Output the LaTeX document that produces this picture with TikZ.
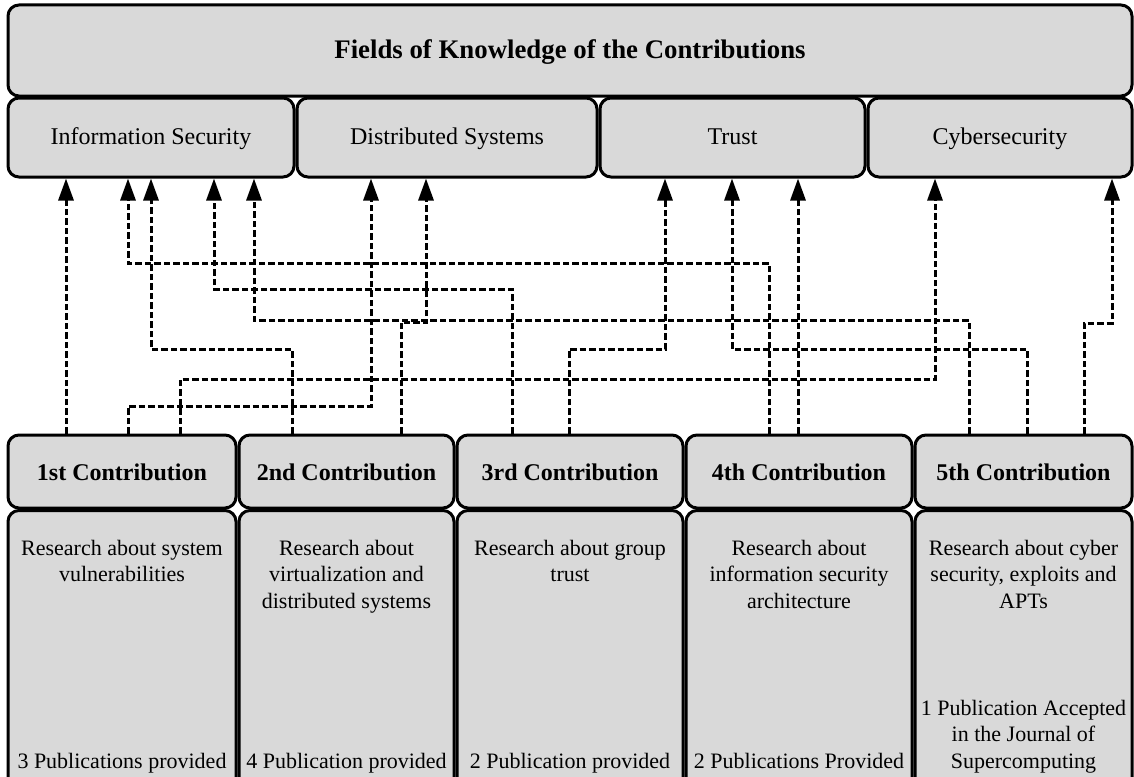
\documentclass[tikz,border=0pt]{standalone}
\usepackage{fontspec}
\setmainfont{Liberation Serif}
\usetikzlibrary{arrows.meta}
\definecolor{boxgray}{RGB}{217,217,217}
\begin{document}
\begin{tikzpicture}[x=1pt,y=-1pt,
  panel/.style={draw=black, fill=boxgray, line width=3pt, rounded corners=11pt, inner sep=0pt},
  titletxt/.style={font=\bfseries\fontsize{26.8}{32}\selectfont, text height=19pt, text depth=3pt},
  fieldtxt/.style={font=\fontsize{24}{28}\selectfont, text height=18pt, text depth=5pt},
  headtxt/.style={font=\bfseries\fontsize{24}{28}\selectfont, text height=17pt, text depth=0pt},
  bodytxt/.style={font=\fontsize{22}{26.5}\selectfont, align=center, inner sep=0pt, anchor=north},
  link/.style={line width=3pt, dash pattern=on 6.5pt off 3pt,
    -{Triangle[length=22pt,width=15pt]}}
]
\useasboundingbox (0,0) rectangle (1134,776);
\clip (0,0) rectangle (1134,776);

% header and fields of knowledge
\node[panel, titletxt, minimum width=1124pt, minimum height=91pt] (title) at (570,50.5)
  {Fields of Knowledge of the Contributions};
\node[panel, fieldtxt, minimum width=286pt, minimum height=79pt] (is) at (151,137.5) {Information Security};
\node[panel, fieldtxt, minimum width=300pt, minimum height=79pt] (ds) at (447,137.5) {Distributed Systems};
\node[panel, fieldtxt, minimum width=265pt, minimum height=79pt] (tr) at (732.5,137.5) {Trust};
\node[panel, fieldtxt, minimum width=264pt, minimum height=79pt] (cy) at (1000,137.5) {Cybersecurity};

% contribution headers
\node[panel, headtxt, minimum width=228pt, minimum height=73pt] (c1) at (122,471.5) {1st Contribution};
\node[panel, headtxt, minimum width=215pt, minimum height=73pt] (c2) at (346.5,471.5) {2nd Contribution};
\node[panel, headtxt, minimum width=226pt, minimum height=73pt] (c3) at (570,471.5) {3rd Contribution};
\node[panel, headtxt, minimum width=226pt, minimum height=73pt] (c4) at (799,471.5) {4th Contribution};
\node[panel, headtxt, minimum width=217pt, minimum height=73pt] (c5) at (1023.5,471.5) {5th Contribution};

% contribution bodies
\node[panel, minimum width=228pt, minimum height=289pt] (b1) at (122,655) {};
\node[panel, minimum width=215pt, minimum height=289pt] (b2) at (346.5,655) {};
\node[panel, minimum width=226pt, minimum height=289pt] (b3) at (570,655) {};
\node[panel, minimum width=226pt, minimum height=289pt] (b4) at (799,655) {};
\node[panel, minimum width=217pt, minimum height=289pt] (b5) at (1023.5,655) {};

\node[bodytxt] (d1) at ([yshift=-31pt]b1.north) {Research about system\\vulnerabilities};
\node[bodytxt] (d2) at ([yshift=-31pt]b2.north) {Research about\\virtualization and\\distributed systems};
\node[bodytxt] (d3) at ([yshift=-31pt]b3.north) {Research about group\\trust};
\node[bodytxt] (d4) at ([yshift=-31pt]b4.north) {Research about\\information security\\architecture};
\node[bodytxt] (d5) at ([yshift=-31pt]b5.north) {Research about cyber\\security, exploits and\\APTs};

\node[bodytxt] (p1) at ([yshift=-244pt]b1.north) {3 Publications provided};
\node[bodytxt] (p2) at ([yshift=-244pt]b2.north) {4 Publication provided};
\node[bodytxt] (p3) at ([yshift=-244pt]b3.north) {2 Publication provided};
\node[bodytxt] (p4) at ([yshift=-244pt]b4.north) {2 Publications Provided};
\node[bodytxt] (p5) at ([yshift=-191pt]b5.north) {1 Publication Accepted\\in the Journal of\\Supercomputing};

% connector columns (start and end) and routing levels
\path (66,0) coordinate (s1) (128,0) coordinate (s2) (180,0) coordinate (s3)
      (292,0) coordinate (s4) (401,0) coordinate (s5) (512,0) coordinate (s6)
      (569,0) coordinate (s7) (769,0) coordinate (s8) (798,0) coordinate (s9)
      (969,0) coordinate (s10) (1027,0) coordinate (s11) (1084,0) coordinate (s12);
\path (371,0) coordinate (t2) (935,0) coordinate (t3) (151,0) coordinate (t4)
      (426,0) coordinate (t5) (214,0) coordinate (t6) (665,0) coordinate (t7)
      (128,0) coordinate (t8) (254,0) coordinate (t10) (732,0) coordinate (t11)
      (1112,0) coordinate (t12);
\path (0,263) coordinate (h1) (0,289) coordinate (h2) (0,320) coordinate (h3)
      (0,322) coordinate (h3b) (0,323) coordinate (h3c) (0,349) coordinate (h4)
      (0,379) coordinate (h5) (0,406) coordinate (h6);

% connectors from contributions to fields
\draw[link] (c1.north -| s1) -- (is.south -| s1);
\draw[link] (c1.north -| s2) |- (t2 |- h6) -- (ds.south -| t2);
\draw[link] (c1.north -| s3) |- (t3 |- h5) -- (cy.south -| t3);
\draw[link] (c2.north -| s4) |- (t4 |- h4) -- (is.south -| t4);
\draw[link] (c2.north -| s5) |- (t5 |- h3b) -- (ds.south -| t5);
\draw[link] (c3.north -| s6) |- (t6 |- h2) -- (is.south -| t6);
\draw[link] (c3.north -| s7) |- (t7 |- h4) -- (tr.south -| t7);
\draw[link] (c4.north -| s8) |- (t8 |- h1) -- (is.south -| t8);
\draw[link] (c4.north -| s9) -- (tr.south -| s9);
\draw[link] (c5.north -| s10) |- (t10 |- h3) -- (is.south -| t10);
\draw[link] (c5.north -| s11) |- (t11 |- h4) -- (tr.south -| t11);
\draw[link] (c5.north -| s12) |- (t12 |- h3c) -- (cy.south -| t12);
\end{tikzpicture}
\end{document}
